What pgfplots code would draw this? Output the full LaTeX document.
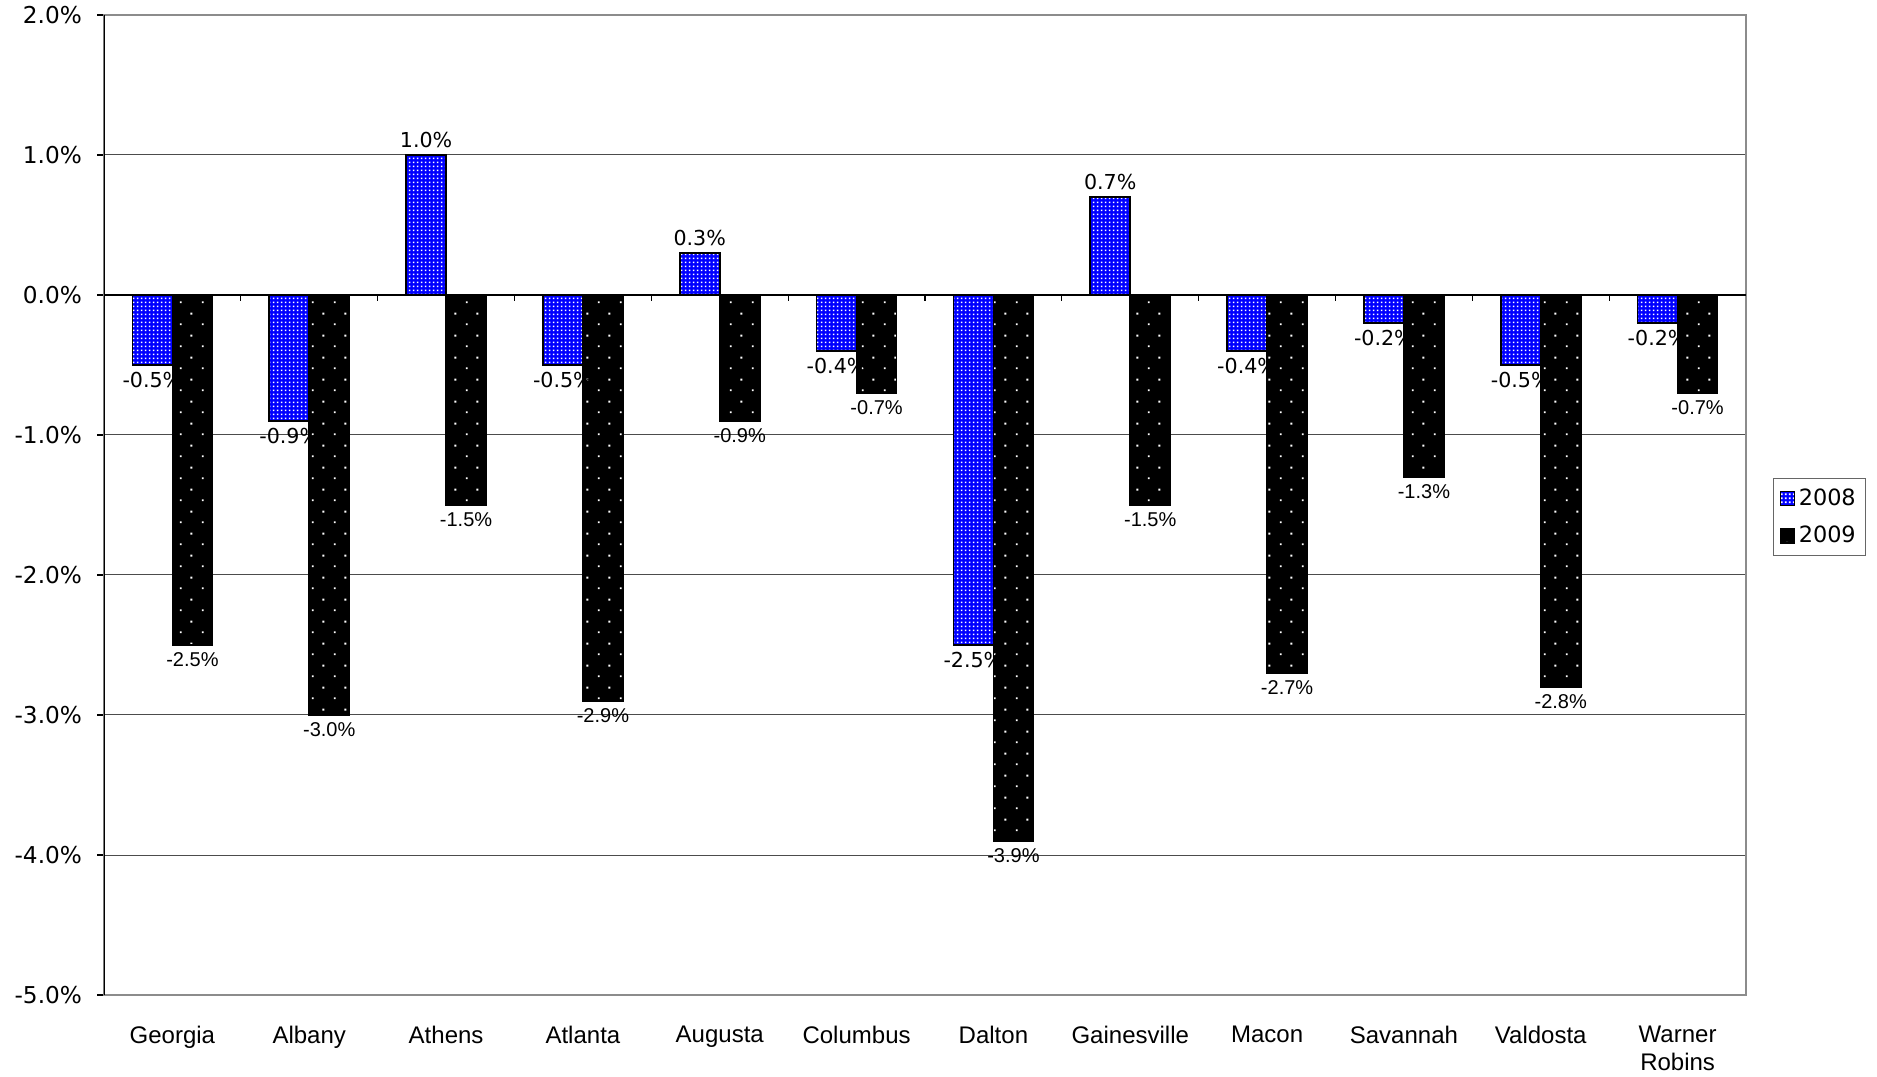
\documentclass[border=0pt]{standalone}
\usepackage{pgfplots}
\pgfplotsset{compat=1.18}
\usepackage{fontspec}
\setmainfont{DejaVu Sans}
\newfontfamily\arialfont{Liberation Sans}
\usetikzlibrary{patterns}

% white dots on the bars
\pgfdeclarepatternformonly{finedots}{\pgfpointorigin}{\pgfpoint{2pt}{2pt}}{\pgfpoint{2pt}{2pt}}{%
  \pgfpathrectangle{\pgfpoint{0.5pt}{0.5pt}}{\pgfpoint{1pt}{1pt}}\pgfusepath{fill}}
\pgfdeclarepatternformonly{sparsedots}{\pgfpointorigin}{\pgfpoint{11pt}{11pt}}{\pgfpoint{11pt}{11pt}}{%
  \pgfpathrectangle{\pgfpoint{2pt}{2pt}}{\pgfpoint{1pt}{1pt}}%
  \pgfpathrectangle{\pgfpoint{7.5pt}{7.5pt}}{\pgfpoint{1pt}{1pt}}\pgfusepath{fill}}

\begin{document}
\begin{tikzpicture}
  \begin{axis}[
    at={(0,0)}, anchor=south west,
    scale only axis,
    width=821pt, height=490pt,
    xmin=-0.5, xmax=11.5,
    ymin=-5, ymax=2,
    ytick={-5,-4,...,2},
    /pgf/number format/assume math mode=true,
    yticklabel={\pgfmathprintnumber[fixed,fixed zerofill,precision=1]{\tick}\%},
    yticklabel style={font=\fontsize{11.6}{13}\selectfont, xshift=-4pt},
    xtick={0,...,11},
    xticklabels={Georgia,Albany,Athens,Atlanta,Augusta,Columbus,Dalton,Gainesville,Macon,Savannah,Valdosta,{Warner\\Robins}},
    xticklabel style={font=\arialfont\fontsize{12}{14}\selectfont, align=center, anchor=north, yshift=-8.5pt},
    major x tick style={draw=none},
    ytick pos=left,
    tick align=outside,
    major tick length=3.5pt,
    major y tick style={black, line width=0.6pt},
    ymajorgrids,
    grid style={black!70, line width=0.5pt},
    axis line style={black!45, line width=1pt},
    ybar=0pt,
    bar width=20pt,
    nodes near coords={\pgfmathprintnumber[fixed,fixed zerofill,precision=1]{\pgfplotspointmeta}\%},
    legend style={at={(1.0164,0.5276)}, anchor=north west, draw=black!60, line width=0.6pt,
      font=\fontsize{11.2}{13}\selectfont, row sep=5pt, inner xsep=3pt, inner ysep=3pt},
    legend cell align=left,
    legend image code/.code={\draw[#1, line width=0.6pt] (0pt,-3.5pt) rectangle (7pt,3.5pt);},
  ]

  \addplot[fill=blue, draw=black, line width=0.8pt,
    postaction={pattern=finedots, pattern color=white},
    nodes near coords style={font=\fontsize{10.3}{12}\selectfont, text=black}]
  coordinates {
    (0,-0.5) (1,-0.9) (2,1.0) (3,-0.5) (4,0.3) (5,-0.4)
    (6,-2.5) (7,0.7) (8,-0.4) (9,-0.2) (10,-0.5) (11,-0.2)
  };
  \addlegendentry{2008}

  \addplot[fill=black, draw=black, line width=0.8pt,
    postaction={pattern=sparsedots, pattern color=white},
    nodes near coords style={font=\arialfont\fontsize{10}{12}\selectfont, text=black}]
  coordinates {
    (0,-2.5) (1,-3.0) (2,-1.5) (3,-2.9) (4,-0.9) (5,-0.7)
    (6,-3.9) (7,-1.5) (8,-2.7) (9,-1.3) (10,-2.8) (11,-0.7)
  };
  \addlegendentry{2009}

  % zero line with its small ticks between the cities
  \draw[black, line width=0.6pt] (axis cs:-0.5,0) -- (axis cs:11.5,0);
  \pgfplotsinvokeforeach{0.5,1.5,2.5,3.5,4.5,5.5,6.5,7.5,8.5,9.5,10.5}{
    \draw[black, line width=0.6pt] (axis cs:#1,0) -- (axis cs:#1,-0.04);
  }
  \draw[black, line width=1pt] (rel axis cs:0,0) -- (rel axis cs:0,1);
  \end{axis}
  \pgfresetboundingbox
  \useasboundingbox (-52pt,-40.5pt) rectangle (886.5pt,497.5pt);
\end{tikzpicture}
\end{document}
